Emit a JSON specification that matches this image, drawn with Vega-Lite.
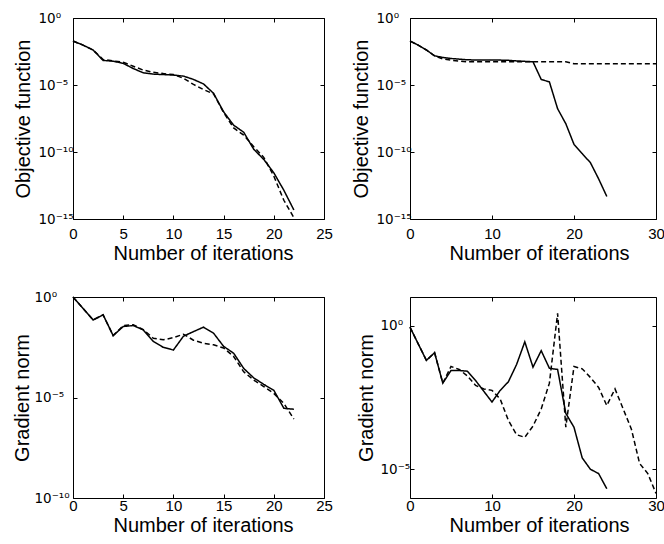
{
  "$schema": "https://vega.github.io/schema/vega-lite/v6.json",
  "padding": {"left": 11, "top": 10, "right": 0, "bottom": 0},
  "bounds": "flush",
  "columns": 2,
  "spacing": {"row": 78, "column": 86},
  "config": {
    "font": "Liberation Sans",
    "view": {"stroke": "black", "strokeWidth": 1},
    "axis": {
      "domain": false, "grid": false, "tickColor": "black", "tickSize": -4, "tickWidth": 1,
      "labelFont": "Liberation Sans", "labelFontSize": 15, "labelColor": "black",
      "titleFont": "Liberation Sans", "titleFontSize": 20, "titleFontWeight": "normal", "titleColor": "black",
      "labelFlush": false, "labelOverlap": false
    },
    "axisY": {"labelFont": "DejaVu Sans", "labelFontSize": 13.5},
    "line": {"color": "black", "strokeWidth": 1.5}
  },
  "datasets": {
    "p1": [
      {"it":0,"v":1.9e-2,"s":"solid"},{"it":1,"v":9.5e-3,"s":"solid"},{"it":2,"v":4.1e-3,"s":"solid"},{"it":3,"v":6.8e-4,"s":"solid"},{"it":4,"v":6.0e-4,"s":"solid"},{"it":5,"v":4.1e-4,"s":"solid"},{"it":6,"v":1.7e-4,"s":"solid"},{"it":7,"v":8.1e-5,"s":"solid"},{"it":8,"v":6.5e-5,"s":"solid"},{"it":9,"v":6.0e-5,"s":"solid"},{"it":10,"v":5.5e-5,"s":"solid"},{"it":11,"v":4.6e-5,"s":"solid"},{"it":12,"v":2.6e-5,"s":"solid"},{"it":13,"v":1.2e-5,"s":"solid"},{"it":14,"v":2.4e-6,"s":"solid"},{"it":15,"v":1.0e-7,"s":"solid"},{"it":16,"v":1.0e-8,"s":"solid"},{"it":17,"v":3.0e-9,"s":"solid"},{"it":18,"v":1.6e-10,"s":"solid"},{"it":19,"v":2.8e-11,"s":"solid"},{"it":20,"v":2.8e-12,"s":"solid"},{"it":21,"v":1.4e-13,"s":"solid"},{"it":22,"v":4.7e-15,"s":"solid"},
      {"it":0,"v":1.9e-2,"s":"dashed"},{"it":1,"v":9.5e-3,"s":"dashed"},{"it":2,"v":4.1e-3,"s":"dashed"},{"it":3,"v":7.9e-4,"s":"dashed"},{"it":4,"v":6.3e-4,"s":"dashed"},{"it":5,"v":5.0e-4,"s":"dashed"},{"it":6,"v":2.5e-4,"s":"dashed"},{"it":7,"v":1.3e-4,"s":"dashed"},{"it":8,"v":8.9e-5,"s":"dashed"},{"it":9,"v":7.1e-5,"s":"dashed"},{"it":10,"v":6.0e-5,"s":"dashed"},{"it":11,"v":3.2e-5,"s":"dashed"},{"it":12,"v":1.1e-5,"s":"dashed"},{"it":13,"v":4.5e-6,"s":"dashed"},{"it":14,"v":2.2e-6,"s":"dashed"},{"it":15,"v":8.9e-8,"s":"dashed"},{"it":16,"v":6.3e-9,"s":"dashed"},{"it":17,"v":1.8e-9,"s":"dashed"},{"it":18,"v":2.5e-10,"s":"dashed"},{"it":19,"v":4.0e-11,"s":"dashed"},{"it":20,"v":1.6e-12,"s":"dashed"},{"it":21,"v":2.5e-14,"s":"dashed"},{"it":22,"v":1.26e-15,"s":"dashed"}
    ],
    "p2": [
      {"it":0,"v":1.9e-2,"s":"solid"},{"it":1,"v":9.5e-3,"s":"solid"},{"it":2,"v":4.1e-3,"s":"solid"},{"it":3,"v":1.5e-3,"s":"solid"},{"it":4,"v":1.15e-3,"s":"solid"},{"it":5,"v":9.5e-4,"s":"solid"},{"it":6,"v":8.5e-4,"s":"solid"},{"it":7,"v":7.6e-4,"s":"solid"},{"it":8,"v":7.4e-4,"s":"solid"},{"it":9,"v":7.4e-4,"s":"solid"},{"it":10,"v":7.4e-4,"s":"solid"},{"it":11,"v":7.2e-4,"s":"solid"},{"it":12,"v":6.9e-4,"s":"solid"},{"it":13,"v":6.3e-4,"s":"solid"},{"it":14,"v":5.8e-4,"s":"solid"},{"it":15,"v":5.4e-4,"s":"solid"},{"it":16,"v":2.6e-5,"s":"solid"},{"it":17,"v":1.7e-5,"s":"solid"},{"it":18,"v":1.7e-7,"s":"solid"},{"it":19,"v":1.3e-8,"s":"solid"},{"it":20,"v":3.7e-10,"s":"solid"},{"it":21,"v":7.6e-11,"s":"solid"},{"it":22,"v":1.6e-11,"s":"solid"},{"it":23,"v":1.0e-12,"s":"solid"},{"it":24,"v":4.8e-14,"s":"solid"},
      {"it":0,"v":1.9e-2,"s":"dashed"},{"it":1,"v":9.5e-3,"s":"dashed"},{"it":2,"v":4.1e-3,"s":"dashed"},{"it":3,"v":1.5e-3,"s":"dashed"},{"it":4,"v":8.9e-4,"s":"dashed"},{"it":5,"v":7.1e-4,"s":"dashed"},{"it":6,"v":6.0e-4,"s":"dashed"},{"it":7,"v":5.4e-4,"s":"dashed"},{"it":8,"v":5.4e-4,"s":"dashed"},{"it":9,"v":5.4e-4,"s":"dashed"},{"it":10,"v":5.4e-4,"s":"dashed"},{"it":11,"v":5.4e-4,"s":"dashed"},{"it":12,"v":5.4e-4,"s":"dashed"},{"it":13,"v":5.4e-4,"s":"dashed"},{"it":14,"v":5.4e-4,"s":"dashed"},{"it":15,"v":5.4e-4,"s":"dashed"},{"it":16,"v":5.4e-4,"s":"dashed"},{"it":17,"v":5.4e-4,"s":"dashed"},{"it":18,"v":5.4e-4,"s":"dashed"},{"it":19,"v":5.4e-4,"s":"dashed"},{"it":20,"v":3.8e-4,"s":"dashed"},{"it":21,"v":3.8e-4,"s":"dashed"},{"it":22,"v":3.8e-4,"s":"dashed"},{"it":23,"v":3.8e-4,"s":"dashed"},{"it":24,"v":3.8e-4,"s":"dashed"},{"it":25,"v":3.8e-4,"s":"dashed"},{"it":26,"v":3.8e-4,"s":"dashed"},{"it":27,"v":3.8e-4,"s":"dashed"},{"it":28,"v":3.8e-4,"s":"dashed"},{"it":29,"v":3.8e-4,"s":"dashed"},{"it":30,"v":3.8e-4,"s":"dashed"}
    ],
    "p3": [
      {"it":0,"v":1.0,"s":"solid"},{"it":1,"v":0.27,"s":"solid"},{"it":2,"v":0.072,"s":"solid"},{"it":3,"v":0.129,"s":"solid"},{"it":4,"v":0.012,"s":"solid"},{"it":5,"v":0.034,"s":"solid"},{"it":6,"v":0.038,"s":"solid"},{"it":7,"v":0.023,"s":"solid"},{"it":8,"v":0.0062,"s":"solid"},{"it":9,"v":0.0031,"s":"solid"},{"it":10,"v":0.0023,"s":"solid"},{"it":11,"v":0.0112,"s":"solid"},{"it":12,"v":0.019,"s":"solid"},{"it":13,"v":0.0316,"s":"solid"},{"it":14,"v":0.0158,"s":"solid"},{"it":15,"v":0.0035,"s":"solid"},{"it":16,"v":0.0016,"s":"solid"},{"it":17,"v":2.8e-4,"s":"solid"},{"it":18,"v":9.5e-5,"s":"solid"},{"it":19,"v":4.5e-5,"s":"solid"},{"it":20,"v":2.3e-5,"s":"solid"},{"it":21,"v":2.9e-6,"s":"solid"},{"it":22,"v":2.6e-6,"s":"solid"},
      {"it":0,"v":1.0,"s":"dashed"},{"it":1,"v":0.27,"s":"dashed"},{"it":2,"v":0.072,"s":"dashed"},{"it":3,"v":0.129,"s":"dashed"},{"it":4,"v":0.012,"s":"dashed"},{"it":5,"v":0.038,"s":"dashed"},{"it":6,"v":0.042,"s":"dashed"},{"it":7,"v":0.024,"s":"dashed"},{"it":8,"v":0.0089,"s":"dashed"},{"it":9,"v":0.0074,"s":"dashed"},{"it":10,"v":0.0095,"s":"dashed"},{"it":11,"v":0.0141,"s":"dashed"},{"it":12,"v":0.0071,"s":"dashed"},{"it":13,"v":0.005,"s":"dashed"},{"it":14,"v":0.0042,"s":"dashed"},{"it":15,"v":0.0029,"s":"dashed"},{"it":16,"v":0.0011,"s":"dashed"},{"it":17,"v":1.9e-4,"s":"dashed"},{"it":18,"v":7.4e-5,"s":"dashed"},{"it":19,"v":3.5e-5,"s":"dashed"},{"it":20,"v":1.6e-5,"s":"dashed"},{"it":21,"v":5.1e-6,"s":"dashed"},{"it":22,"v":8.5e-7,"s":"dashed"}
    ],
    "p4": [
      {"it":0,"v":0.89,"s":"solid"},{"it":1,"v":0.234,"s":"solid"},{"it":2,"v":0.062,"s":"solid"},{"it":3,"v":0.115,"s":"solid"},{"it":4,"v":0.010,"s":"solid"},{"it":5,"v":0.0275,"s":"solid"},{"it":6,"v":0.0275,"s":"solid"},{"it":7,"v":0.026,"s":"solid"},{"it":8,"v":0.0123,"s":"solid"},{"it":9,"v":0.0052,"s":"solid"},{"it":10,"v":0.0022,"s":"solid"},{"it":11,"v":0.0056,"s":"solid"},{"it":12,"v":0.0112,"s":"solid"},{"it":13,"v":0.0447,"s":"solid"},{"it":14,"v":0.275,"s":"solid"},{"it":15,"v":0.036,"s":"solid"},{"it":16,"v":0.135,"s":"solid"},{"it":17,"v":0.033,"s":"solid"},{"it":18,"v":0.030,"s":"solid"},{"it":19,"v":8.9e-4,"s":"solid"},{"it":20,"v":2.9e-4,"s":"solid"},{"it":21,"v":2.5e-5,"s":"solid"},{"it":22,"v":1.0e-5,"s":"solid"},{"it":23,"v":7.1e-6,"s":"solid"},{"it":24,"v":2.1e-6,"s":"solid"},
      {"it":0,"v":0.89,"s":"dashed"},{"it":1,"v":0.234,"s":"dashed"},{"it":2,"v":0.062,"s":"dashed"},{"it":3,"v":0.115,"s":"dashed"},{"it":4,"v":0.010,"s":"dashed"},{"it":5,"v":0.038,"s":"dashed"},{"it":6,"v":0.030,"s":"dashed"},{"it":7,"v":0.0178,"s":"dashed"},{"it":8,"v":0.0083,"s":"dashed"},{"it":9,"v":0.0063,"s":"dashed"},{"it":10,"v":0.0056,"s":"dashed"},{"it":11,"v":0.0028,"s":"dashed"},{"it":12,"v":5.0e-4,"s":"dashed"},{"it":13,"v":1.6e-4,"s":"dashed"},{"it":14,"v":1.3e-4,"s":"dashed"},{"it":15,"v":3.2e-4,"s":"dashed"},{"it":16,"v":0.00126,"s":"dashed"},{"it":17,"v":0.010,"s":"dashed"},{"it":18,"v":2.69,"s":"dashed"},{"it":19,"v":2.95e-4,"s":"dashed"},{"it":20,"v":0.038,"s":"dashed"},{"it":21,"v":0.0316,"s":"dashed"},{"it":22,"v":0.0158,"s":"dashed"},{"it":23,"v":0.0071,"s":"dashed"},{"it":24,"v":0.00166,"s":"dashed"},{"it":25,"v":0.0063,"s":"dashed"},{"it":26,"v":0.00126,"s":"dashed"},{"it":27,"v":2.5e-4,"s":"dashed"},{"it":28,"v":1.6e-5,"s":"dashed"},{"it":29,"v":7.1e-6,"s":"dashed"},{"it":30,"v":1.45e-6,"s":"dashed"}
    ]
  },
  "concat": [
    {
      "width": 251, "height": 201,
      "data": {"name": "p1"},
      "layer": [
        {
          "mark": {"type": "line", "color": "black", "strokeWidth": 1.5},
          "encoding": {
            "x": {"field": "it", "type": "quantitative", "scale": {"domain": [0, 25], "nice": false, "zero": false},
                  "axis": {"orient": "bottom", "values": [0, 5, 10, 15, 20, 25], "title": "Number of iterations", "labelPadding": 11, "titlePadding": 2, "titleX": 130}},
            "y": {"field": "v", "type": "quantitative", "scale": {"type": "log", "domain": [1e-15, 1], "nice": false},
                  "axis": {"orient": "left", "values": [1, 1e-5, 1e-10, 1e-15], "labelExpr": "datum.value >= 0.5 ? '10⁰' : datum.value > 5e-6 ? '10⁻⁵' : datum.value > 5e-11 ? '10⁻¹⁰' : '10⁻¹⁵'", "labelAlign": "left", "labelBaseline": "middle", "labelPadding": 39, "title": "Objective function", "titlePadding": 5}},
            "strokeDash": {"field": "s", "type": "nominal", "scale": {"domain": ["solid", "dashed"], "range": [[1, 0], [5, 3]]}, "legend": null}
          }
        },
        {
          "mark": {"type": "line", "opacity": 0},
          "encoding": {
            "x": {"field": "it", "type": "quantitative", "axis": {"orient": "top", "values": [0, 5, 10, 15, 20, 25], "labels": false, "title": null}},
            "y": {"field": "v", "type": "quantitative", "axis": {"orient": "right", "values": [1, 1e-5, 1e-10, 1e-15], "labels": false, "title": null}},
            "detail": {"field": "s"}
          }
        }
      ],
      "resolve": {"axis": {"x": "independent", "y": "independent"}}
    },
    {
      "width": 246, "height": 201,
      "data": {"name": "p2"},
      "layer": [
        {
          "mark": {"type": "line", "color": "black", "strokeWidth": 1.5},
          "encoding": {
            "x": {"field": "it", "type": "quantitative", "scale": {"domain": [0, 30], "nice": false, "zero": false},
                  "axis": {"orient": "bottom", "values": [0, 10, 20, 30], "title": "Number of iterations", "labelPadding": 11, "titlePadding": 2, "titleX": 129}},
            "y": {"field": "v", "type": "quantitative", "scale": {"type": "log", "domain": [1e-15, 1], "nice": false},
                  "axis": {"orient": "left", "values": [1, 1e-5, 1e-10, 1e-15], "labelExpr": "datum.value >= 0.5 ? '10⁰' : datum.value > 5e-6 ? '10⁻⁵' : datum.value > 5e-11 ? '10⁻¹⁰' : '10⁻¹⁵'", "labelAlign": "left", "labelBaseline": "middle", "labelPadding": 38, "title": "Objective function", "titlePadding": 5}},
            "strokeDash": {"field": "s", "type": "nominal", "scale": {"domain": ["solid", "dashed"], "range": [[1, 0], [5, 3]]}, "legend": null}
          }
        },
        {
          "mark": {"type": "line", "opacity": 0},
          "encoding": {
            "x": {"field": "it", "type": "quantitative", "axis": {"orient": "top", "values": [0, 10, 20, 30], "labels": false, "title": null}},
            "y": {"field": "v", "type": "quantitative", "axis": {"orient": "right", "values": [1, 1e-5, 1e-10, 1e-15], "labels": false, "title": null}},
            "detail": {"field": "s"}
          }
        }
      ],
      "resolve": {"axis": {"x": "independent", "y": "independent"}}
    },
    {
      "width": 251, "height": 201,
      "data": {"name": "p3"},
      "layer": [
        {
          "mark": {"type": "line", "color": "black", "strokeWidth": 1.5},
          "encoding": {
            "x": {"field": "it", "type": "quantitative", "scale": {"domain": [0, 25], "nice": false, "zero": false},
                  "axis": {"orient": "bottom", "values": [0, 5, 10, 15, 20, 25], "title": "Number of iterations", "labelPadding": 4, "titlePadding": 2, "titleX": 130}},
            "y": {"field": "v", "type": "quantitative", "scale": {"type": "log", "domain": [1e-10, 1], "nice": false},
                  "axis": {"orient": "left", "values": [1, 1e-5, 1e-10], "labelExpr": "datum.value >= 0.5 ? '10⁰' : datum.value > 5e-6 ? '10⁻⁵' : '10⁻¹⁰'", "labelAlign": "left", "labelBaseline": "middle", "labelPadding": 43, "title": "Gradient norm", "titlePadding": 2}},
            "strokeDash": {"field": "s", "type": "nominal", "scale": {"domain": ["solid", "dashed"], "range": [[1, 0], [5, 3]]}, "legend": null}
          }
        },
        {
          "mark": {"type": "line", "opacity": 0},
          "encoding": {
            "x": {"field": "it", "type": "quantitative", "axis": {"orient": "top", "values": [0, 5, 10, 15, 20, 25], "labels": false, "title": null}},
            "y": {"field": "v", "type": "quantitative", "axis": {"orient": "right", "values": [1, 1e-5, 1e-10], "labels": false, "title": null}},
            "detail": {"field": "s"}
          }
        }
      ],
      "resolve": {"axis": {"x": "independent", "y": "independent"}}
    },
    {
      "width": 246, "height": 201,
      "data": {"name": "p4"},
      "layer": [
        {
          "mark": {"type": "line", "color": "black", "strokeWidth": 1.5},
          "encoding": {
            "x": {"field": "it", "type": "quantitative", "scale": {"domain": [0, 30], "nice": false, "zero": false},
                  "axis": {"orient": "bottom", "values": [0, 10, 20, 30], "title": "Number of iterations", "labelPadding": 4, "titlePadding": 2, "titleX": 129}},
            "y": {"field": "v", "type": "quantitative", "scale": {"type": "log", "domain": [1e-6, 10], "nice": false},
                  "axis": {"orient": "left", "values": [1, 1e-5], "labelExpr": "datum.value >= 0.5 ? '10⁰' : '10⁻⁵'", "labelAlign": "left", "labelBaseline": "middle", "labelPadding": 34, "title": "Gradient norm", "titlePadding": 4}},
            "strokeDash": {"field": "s", "type": "nominal", "scale": {"domain": ["solid", "dashed"], "range": [[1, 0], [5, 3]]}, "legend": null}
          }
        },
        {
          "mark": {"type": "line", "opacity": 0},
          "encoding": {
            "x": {"field": "it", "type": "quantitative", "axis": {"orient": "top", "values": [0, 10, 20, 30], "labels": false, "title": null}},
            "y": {"field": "v", "type": "quantitative", "axis": {"orient": "right", "values": [1, 1e-5], "labels": false, "title": null}},
            "detail": {"field": "s"}
          }
        }
      ],
      "resolve": {"axis": {"x": "independent", "y": "independent"}}
    }
  ]
}
